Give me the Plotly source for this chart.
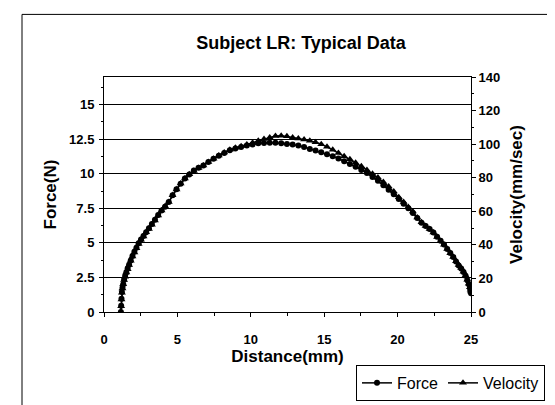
import plotly.graph_objects as go

# valeurs
distance = [
    1.15, 1.17, 1.19, 1.22, 1.26, 1.31, 1.37, 1.44, 1.52, 1.61, 1.71, 1.82, 1.94,
    2.07, 2.21, 2.36, 2.52, 2.69, 2.87, 3.06, 3.26, 3.47, 3.69, 3.92, 4.16, 4.41,
    4.67, 4.94, 5.22, 5.51, 5.81, 6.12, 6.44, 6.77, 7.11, 7.46, 7.82, 8.19, 8.57,
    8.95, 9.34, 9.73, 10.12, 10.51, 10.9, 11.29, 11.68, 12.07, 12.46, 12.85, 13.24,
    13.63, 14.02, 14.41, 14.8, 15.19, 15.58, 15.97, 16.36, 16.75, 17.14, 17.53,
    17.91, 18.29, 18.66, 19.03, 19.39, 19.74, 20.08, 20.41, 20.73, 21.04, 21.34,
    21.63, 21.91, 22.18, 22.44, 22.69, 22.93, 23.16, 23.38, 23.59, 23.79, 23.98,
    24.16, 24.33, 24.49, 24.63, 24.75, 24.85, 24.93, 24.98, 25.0,
]
force = [
    0.0, 0.45, 0.95, 1.45, 1.75, 2.0, 2.33, 2.6, 2.85, 3.14, 3.42, 3.72, 4.05,
    4.35, 4.65, 4.97, 5.24, 5.5, 5.77, 6.06, 6.36, 6.68, 7.02, 7.35, 7.62, 7.95,
    8.45, 8.88, 9.28, 9.65, 9.95, 10.23, 10.43, 10.6, 10.85, 11.08, 11.3, 11.5, 11.7,
    11.82, 11.93, 12.04, 12.12, 12.2, 12.23, 12.25, 12.24, 12.2, 12.16, 12.11, 12.05,
    11.93, 11.8, 11.68, 11.55, 11.41, 11.26, 11.1, 10.91, 10.71, 10.5, 10.28,
    10.05, 9.77, 9.5, 9.17, 8.85, 8.52, 8.17, 7.83, 7.5, 7.17, 6.8,
    6.46, 6.22, 6.0, 5.75, 5.44, 5.15, 4.88, 4.56, 4.26, 3.98, 3.66,
    3.37, 3.14, 2.9, 2.62, 2.3, 2.0, 1.72, 1.5, 1.35,
]
velocity = [
    0, 3.5, 7.5, 11.5, 14, 16.5, 19, 21, 23.5, 25.5, 28, 30.5, 33,
    35.5, 38, 40.5, 43, 45, 47.5, 49.5, 52, 54.5, 57.5, 60.5, 63, 65.5,
    69.5, 73, 76.5, 79.5, 82, 84, 85.8, 87.3, 89.3, 91.3, 93.2, 95, 96.6,
    97.8, 98.8, 99.8, 100.9, 102, 103, 104, 104.8, 105, 104.7, 104, 103.3,
    102.7, 102, 101.1, 100, 98.4, 96.6, 94.7, 92.8, 91, 88.9, 86.8,
    84.6, 82.3, 80.1, 77.4, 74.7, 71.8, 68.4, 65.5, 62.6, 59.8, 56.3,
    53.4, 51.3, 49.4, 47.3, 44.7, 42.3, 40, 37.5, 35, 32.7, 30.2,
    28, 26.2, 24, 21.7, 19.2, 16.8, 14.8, 13.2, 12.2,
]
force_ticks = [0, 2.5, 5, 7.5, 10, 12.5, 15]
force_labels = ["0", "2.5", "5", "7.5", "10", "12.5", "15"]

FONT = "Arial, Liberation Sans, sans-serif"

fig = go.Figure()
fig.add_trace(go.Scatter(
    x=distance, y=force, name="Force", mode="lines+markers",
    line=dict(color="black", width=1.5),
    marker=dict(symbol="circle", size=6, color="black"),
))
fig.add_trace(go.Scatter(
    x=distance, y=velocity, name="Velocity", mode="lines+markers", yaxis="y2",
    line=dict(color="black", width=1.5),
    marker=dict(symbol="triangle-up", size=7, color="black"),
))

tick_font = dict(family=FONT, size=13, color="black", weight="bold")
title_font = dict(family=FONT, size=17, color="black", weight="bold")

fig.update_layout(
    width=555, height=405,
    margin=dict(l=96, r=92, t=69, b=92),
    paper_bgcolor="white", plot_bgcolor="white",
    font=dict(family=FONT, color="black"),
    title=dict(text="Subject LR: Typical Data",
               font=dict(family=FONT, size=18, color="black", weight="bold"),
               x=293 / 555, xanchor="center", y=1 - 35 / 405, yanchor="middle"),
    xaxis=dict(
        range=[0, 25], tickvals=[0, 5, 10, 15, 20, 25],
        ticks="outside", ticklen=4, tickcolor="black",
        minor=dict(dtick=2.5, ticks="outside", ticklen=3, tickcolor="black"),
        showline=True, linecolor="black", linewidth=1, mirror=True,
        showgrid=False, zeroline=False, tickfont=tick_font,
        ticklabelstandoff=11,
        title=dict(text="Distance(mm)", font=title_font, standoff=3),
    ),
    yaxis=dict(
        range=[0, 17], tickvals=force_ticks, ticktext=force_labels,
        ticks="outside", ticklen=4, tickcolor="black",
        minor=dict(dtick=1.25, ticks="outside", ticklen=2, tickcolor="black"),
        showline=True, linecolor="black", linewidth=1,
        showgrid=True, gridcolor="black", gridwidth=1, zeroline=False,
        tickfont=tick_font, ticklabelstandoff=2,
        title=dict(text="Force(N)", font=title_font, standoff=8),
    ),
    yaxis2=dict(
        range=[0, 140], dtick=20, overlaying="y", side="right",
        ticks="outside", ticklen=4, tickcolor="black",
        minor=dict(dtick=10, ticks="outside", ticklen=2, tickcolor="black"),
        showline=True, linecolor="black", linewidth=1,
        showgrid=False, zeroline=False, tickfont=tick_font,
        title=dict(text="Velocity(mm/sec)", font=title_font, standoff=10),
    ),
    legend=dict(
        orientation="h", x=(537 - 96) / 367, xanchor="right",
        y=(313 - 368) / 244, yanchor="top",
        bordercolor="black", borderwidth=1, bgcolor="white",
        font=dict(family=FONT, size=16, color="black"),
        itemwidth=30, tracegroupgap=0,
    ),
    showlegend=True,
)

# cadre extérieur du graphique
fig.add_shape(type="rect", xref="paper", yref="paper",
              x0=(14 - 96) / 367, x1=(548 - 96) / 367,
              y0=(313 - 420) / 244, y1=(313 - 4) / 244,
              line=dict(color="black", width=1))

fig.write_html("out.html")
